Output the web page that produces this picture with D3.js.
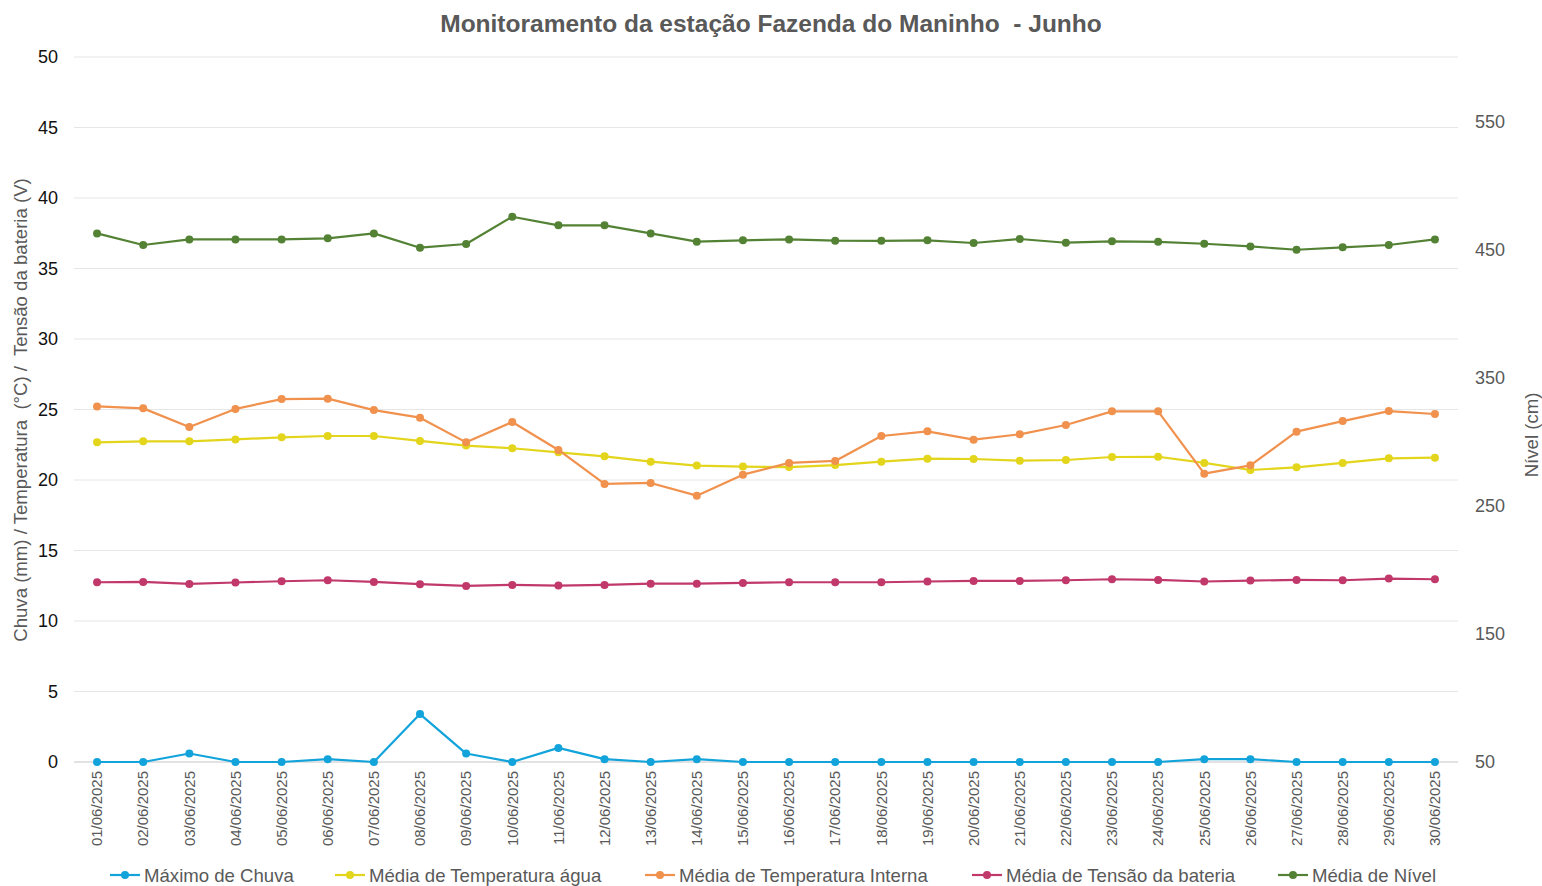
<!DOCTYPE html>
<html>
<head>
<meta charset="utf-8">
<script src="https://cdn.jsdelivr.net/npm/d3@7"></script>
<style>
  body { margin: 0; background: #fff; }
  svg { display: block; font-family: "Liberation Sans", Arial, sans-serif; }
</style>
</head>
<body>
<div id="chart"></div>
<script>
var width = 1542;
var height = 886;
var margin = {top: 57, right: 84, bottom: 124, left: 74};

var dias = [];
for (var d = 1; d <= 30; d++) {
  dias.push((d < 10 ? "0" + d : "" + d) + "/06/2025");
}

// values
var chuva = [0, 0, 0.6, 0, 0, 0.2, 0, 3.4, 0.6, 0, 1.0, 0.2, 0, 0.2, 0,
             0, 0, 0, 0, 0, 0, 0, 0, 0, 0.2, 0.2, 0, 0, 0, 0];
var tempAgua = [22.67, 22.74, 22.74, 22.88, 23.03, 23.12, 23.12, 22.77, 22.44, 22.25,
                21.96, 21.68, 21.30, 21.02, 20.95, 20.92, 21.06, 21.30, 21.51, 21.49,
                21.37, 21.42, 21.63, 21.65, 21.21, 20.71, 20.90, 21.21, 21.54, 21.58];
var tempInterna = [25.22, 25.08, 23.76, 25.04, 25.74, 25.77, 24.96, 24.42, 22.67, 24.11,
                   22.13, 19.72, 19.79, 18.89, 20.38, 21.21, 21.35, 23.12, 23.45, 22.86,
                   23.24, 23.90, 24.87, 24.87, 20.45, 21.04, 23.43, 24.18, 24.89, 24.68];
var tensao = [12.75, 12.77, 12.63, 12.73, 12.82, 12.89, 12.77, 12.61, 12.49, 12.56,
              12.51, 12.56, 12.65, 12.65, 12.70, 12.75, 12.75, 12.75, 12.80, 12.84,
              12.84, 12.89, 12.96, 12.91, 12.80, 12.87, 12.91, 12.89, 13.01, 12.96];
var nivel = [463.0, 453.9, 458.3, 458.3, 458.3, 459.1, 463.0, 451.8, 454.7, 476.0,
             469.3, 469.3, 463.0, 456.5, 457.6, 458.3, 457.3, 457.2, 457.6, 455.5,
             458.6, 455.7, 456.8, 456.4, 454.9, 452.8, 450.2, 452.1, 453.9, 458.3];

var leftTicks = [0, 5, 10, 15, 20, 25, 30, 35, 40, 45, 50];
var rightTicks = [50, 150, 250, 350, 450, 550];

var series = [
  {name: "Máximo de Chuva", values: chuva, color: "#12A3DB", axis: "left"},
  {name: "Média de Temperatura água", values: tempAgua, color: "#E3D51C", axis: "left"},
  {name: "Média de Temperatura Interna", values: tempInterna, color: "#F0914E", axis: "left"},
  {name: "Média de Tensão da bateria", values: tensao, color: "#C1386A", axis: "left"},
  {name: "Média de Nível", values: nivel, color: "#548235", axis: "right"}
];

var svg = d3.select("#chart").append("svg")
  .attr("width", width)
  .attr("height", height);

var x = d3.scaleBand()
  .domain(dias)
  .range([margin.left, width - margin.right]);

var yL = d3.scaleLinear()
  .domain([0, 50])
  .range([height - margin.bottom, margin.top]);

var yR = d3.scaleLinear()
  .domain([50, 600.8])
  .range([height - margin.bottom, margin.top]);

// gridlines
svg.append("g")
  .selectAll("line")
  .data(leftTicks)
  .enter().append("line")
  .attr("x1", margin.left)
  .attr("x2", width - margin.right)
  .attr("y1", function(d) { return yL(d); })
  .attr("y2", function(d) { return yL(d); })
  .attr("stroke", function(d) { return d == 0 ? "#d9d9d9" : "#e6e6e6"; })
  .attr("stroke-width", function(d) { return d == 0 ? 1.5 : 1; });

var yAxisL = d3.axisLeft(yL).tickValues(leftTicks).tickSize(0).tickPadding(16);
svg.append("g")
  .attr("transform", "translate(" + margin.left + ",0)")
  .call(yAxisL)
  .call(function(g) { g.select(".domain").remove(); })
  .selectAll("text")
  .attr("font-size", "18px")
  .attr("fill", "#111");

var yAxisR = d3.axisRight(yR).tickValues(rightTicks).tickSize(0).tickPadding(17);
svg.append("g")
  .attr("transform", "translate(" + (width - margin.right) + ",0)")
  .call(yAxisR)
  .call(function(g) { g.select(".domain").remove(); })
  .selectAll("text")
  .attr("font-size", "18px")
  .attr("fill", "#595959");

var xAxis = d3.axisBottom(x).tickSize(0).tickPadding(0);
svg.append("g")
  .attr("transform", "translate(0," + (height - margin.bottom) + ")")
  .call(xAxis)
  .call(function(g) { g.select(".domain").remove(); })
  .selectAll("text")
  .attr("font-size", "15px")
  .attr("fill", "#595959")
  .style("text-anchor", "end")
  .attr("dx", "-9px")
  .attr("dy", "0.35em")
  .attr("transform", "rotate(-90)");

// lines and markers
series.forEach(function(s) {
  var yS = s.axis == "left" ? yL : yR;
  var line = d3.line()
    .x(function(v, i) { return x(dias[i]) + x.bandwidth() / 2; })
    .y(function(v) { return yS(v); });

  svg.append("path")
    .datum(s.values)
    .attr("fill", "none")
    .attr("stroke", s.color)
    .attr("stroke-width", 2.2)
    .attr("stroke-linejoin", "round")
    .attr("d", line);

  svg.append("g")
    .selectAll("circle")
    .data(s.values)
    .enter().append("circle")
    .attr("cx", function(v, i) { return x(dias[i]) + x.bandwidth() / 2; })
    .attr("cy", function(v) { return yS(v); })
    .attr("r", 4)
    .attr("fill", s.color);
});

// title
svg.append("text")
  .attr("x", 771)
  .attr("y", 32)
  .attr("text-anchor", "middle")
  .attr("font-size", "24.5px")
  .attr("font-weight", "bold")
  .attr("fill", "#595959")
  .attr("xml:space", "preserve")
  .text("Monitoramento da estação Fazenda do Maninho  - Junho");

// axis titles
svg.append("text")
  .attr("transform", "translate(27,410) rotate(-90)")
  .attr("text-anchor", "middle")
  .attr("font-size", "18.6px")
  .attr("fill", "#595959")
  .attr("xml:space", "preserve")
  .text("Chuva (mm) / Temperatura  (°C) /  Tensão da bateria (V)");

svg.append("text")
  .attr("transform", "translate(1538,435) rotate(-90)")
  .attr("text-anchor", "middle")
  .attr("font-size", "18.6px")
  .attr("fill", "#595959")
  .text("Nível (cm)");

// legend
var legendX = [110, 335, 645, 972, 1278];
var legend = svg.append("g")
  .selectAll("g")
  .data(series)
  .enter().append("g")
  .attr("transform", function(s, i) { return "translate(" + legendX[i] + ",875)"; });

legend.append("line")
  .attr("x1", 0).attr("x2", 30)
  .attr("stroke", function(s) { return s.color; })
  .attr("stroke-width", 2.2);

legend.append("circle")
  .attr("cx", 15).attr("r", 4)
  .attr("fill", function(s) { return s.color; });

legend.append("text")
  .attr("x", 34)
  .attr("y", 6.5)
  .attr("font-size", "18.6px")
  .attr("fill", "#595959")
  .text(function(s) { return s.name; });
</script>
</body>
</html>
